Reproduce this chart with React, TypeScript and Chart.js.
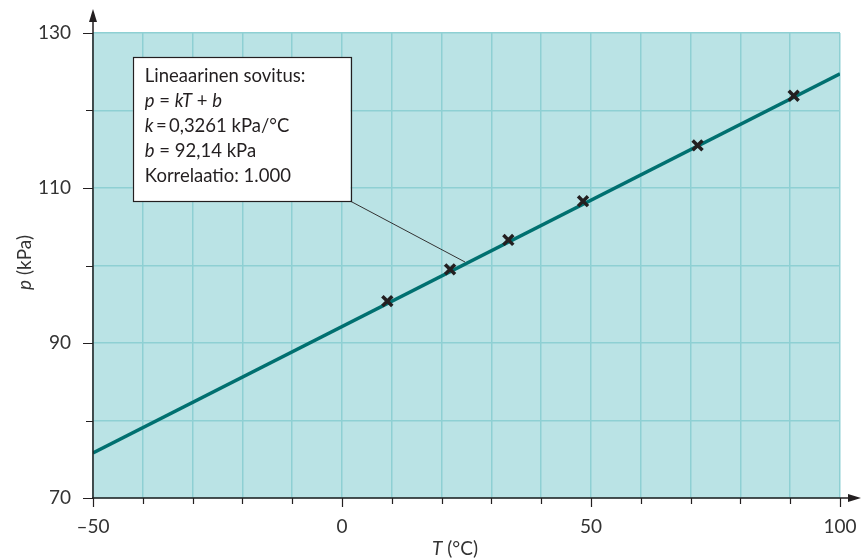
import React, { useEffect, useRef } from "react";
import { Chart, registerables } from "chart.js";

Chart.register(...registerables);

// Measured data (T in °C, p in kPa)
const measuredT = [9.1, 21.7, 33.4, 48.4, 71.4, 90.7];
const measuredP = [95.4, 99.5, 103.3, 108.3, 115.5, 121.9];

// Fitted line end points (p = kT + b)
const fitT = [-50, 100];
const fitP = [75.8, 124.75];

// Annotation text
const boxLines: { t: string; i?: boolean }[][] = [
  [{ t: "Lineaarinen sovitus:" }],
  [{ t: "p", i: true }, { t: " = " }, { t: "kT", i: true }, { t: " + " }, { t: "b", i: true }],
  [{ t: "k", i: true }, { t: "\u2009=\u20090,3261 kPa/°C" }],
  [{ t: "b", i: true }, { t: " = 92,14 kPa" }],
  [{ t: "Korrelaatio: 1.000" }],
];

const FONT = "Lato";
const BG = "#bae3e5";
const GRID = "#8ed0d3";
const AXIS = "#231f20";

function drawSegments(ctx: CanvasRenderingContext2D, segs: { t: string; i?: boolean }[], x: number, y: number, size: number) {
  let cx = x;
  for (const s of segs) {
    ctx.font = `${s.i ? "italic " : ""}${size}px ${FONT}`;
    ctx.fillText(s.t, cx, y);
    cx += ctx.measureText(s.t).width;
  }
  return cx - x;
}

function measureSegments(ctx: CanvasRenderingContext2D, segs: { t: string; i?: boolean }[], size: number) {
  let w = 0;
  for (const s of segs) {
    ctx.font = `${s.i ? "italic " : ""}${size}px ${FONT}`;
    w += ctx.measureText(s.t).width;
  }
  return w;
}

const decorPlugin = {
  id: "decor",
  beforeDraw(chart: any) {
    const { ctx, chartArea: a } = chart;
    ctx.save();
    ctx.fillStyle = BG;
    ctx.fillRect(a.left, a.top, a.right - a.left, a.bottom - a.top);
    ctx.restore();
  },
  afterDraw(chart: any) {
    const { ctx, chartArea: a, scales } = chart;
    const xs = scales.x;
    const ys = scales.y;
    ctx.save();
    // ticks
    ctx.strokeStyle = AXIS;
    ctx.lineWidth = 1.2;
    ctx.beginPath();
    for (let v = -50; v <= 100; v += 10) {
      const px = Math.round(xs.getPixelForValue(v)) + 0.5;
      const len = v % 50 === 0 ? 9 : 6;
      ctx.moveTo(px, a.bottom);
      ctx.lineTo(px, a.bottom + len);
    }
    for (let v = 70; v <= 130; v += 10) {
      const py = Math.round(ys.getPixelForValue(v)) + 0.5;
      const len = (v - 70) % 20 === 0 ? 10 : 7;
      ctx.moveTo(a.left, py);
      ctx.lineTo(a.left - len, py);
    }
    ctx.stroke();
    // axes
    ctx.lineWidth = 1.5;
    ctx.beginPath();
    ctx.moveTo(a.left, a.bottom + 1);
    ctx.lineTo(a.left, 18);
    ctx.moveTo(a.left - 1, a.bottom);
    ctx.lineTo(854, a.bottom);
    ctx.stroke();
    ctx.fillStyle = AXIS;
    ctx.beginPath();
    ctx.moveTo(a.left, 9);
    ctx.lineTo(a.left - 4, 22);
    ctx.lineTo(a.left + 4, 22);
    ctx.closePath();
    ctx.fill();
    ctx.beginPath();
    ctx.moveTo(861, a.bottom);
    ctx.lineTo(848, a.bottom - 4);
    ctx.lineTo(848, a.bottom + 4);
    ctx.closePath();
    ctx.fill();

    // axis titles
    ctx.fillStyle = "#333";
    ctx.textBaseline = "middle";
    const tSegs = [{ t: "T", i: true }, { t: " (°C)" }];
    const tw = measureSegments(ctx, tSegs, 19);
    drawSegments(ctx, tSegs, 455 - tw / 2, 549, 19);
    const pSegs = [{ t: "p", i: true }, { t: " (kPa)" }];
    const pw = measureSegments(ctx, pSegs, 19);
    ctx.save();
    ctx.translate(25, (a.top + a.bottom) / 2 - 3);
    ctx.rotate(-Math.PI / 2);
    drawSegments(ctx, pSegs, -pw / 2, 0, 19);
    ctx.restore();

    // annotation box
    const bl = xs.getPixelForValue(-42);
    const br = xs.getPixelForValue(1.7);
    const bt = ys.getPixelForValue(126.9);
    const bb = ys.getPixelForValue(108.3);
    const tx = xs.getPixelForValue(24.7);
    const ty = ys.getPixelForValue(100.45);
    ctx.strokeStyle = "#333";
    ctx.lineWidth = 1;
    ctx.beginPath();
    ctx.moveTo(br, bb);
    ctx.lineTo(tx, ty);
    ctx.stroke();
    ctx.fillStyle = "#ffffff";
    ctx.fillRect(bl, bt, br - bl, bb - bt);
    ctx.strokeStyle = "#231f20";
    ctx.lineWidth = 1.2;
    ctx.strokeRect(Math.round(bl) + 0.5, Math.round(bt) + 0.5, Math.round(br - bl), Math.round(bb - bt));
    ctx.fillStyle = "#231f20";
    ctx.textBaseline = "alphabetic";
    boxLines.forEach((segs, i) => {
      drawSegments(ctx, segs, bl + 12, bt + 25 + i * 25, 18.5);
    });
    ctx.restore();
  },
};

export default function App() {
  const ref = useRef<HTMLCanvasElement | null>(null);
  useEffect(() => {
    document.body.style.margin = "0";
    const canvas = ref.current!;
    const chart = new Chart(canvas, {
      type: "scatter",
      data: {
        datasets: [
          {
            label: "Measured",
            data: measuredT.map((t, i) => ({ x: t, y: measuredP[i] })),
            pointStyle: "crossRot",
            pointRadius: 7,
            pointBorderWidth: 3.5,
            borderColor: AXIS,
            backgroundColor: AXIS,
            showLine: false,
            order: 0,
          },
          {
            label: "Fit",
            data: fitT.map((t, i) => ({ x: t, y: fitP[i] })),
            showLine: true,
            pointRadius: 0,
            borderColor: "#007070",
            borderWidth: 3.5,
            order: 1,
          },
        ],
      },
      options: {
        animation: false,
        responsive: true,
        maintainAspectRatio: false,
        layout: { padding: { left: 0, top: 33, right: 21, bottom: 0 } },
        plugins: { legend: { display: false }, tooltip: { enabled: false } },
        scales: {
          x: {
            type: "linear",
            min: -50,
            max: 100,
            afterFit: (s: any) => {
              s.height = 61;
              s.paddingLeft = 0;
              s.paddingRight = 0;
            },
            border: { display: false },
            grid: { color: GRID, lineWidth: 1.5, tickLength: 9, tickColor: "rgba(0,0,0,0)" },
            ticks: {
              stepSize: 10,
              autoSkip: false,
              maxRotation: 0,
              padding: 8,
              color: "#333",
              font: { family: FONT, size: 19 },
              callback: (v: any) => (Number(v) % 50 === 0 ? (Number(v) < 0 ? "\u2013" + Math.abs(Number(v)) : String(v)) : ""),
            },
          },
          y: {
            type: "linear",
            min: 70,
            max: 130,
            afterFit: (s: any) => {
              s.width = 93;
              s.paddingTop = 0;
              s.paddingBottom = 0;
            },
            border: { display: false },
            grid: { color: GRID, lineWidth: 1.5, tickLength: 9, tickColor: "rgba(0,0,0,0)" },
            ticks: {
              stepSize: 10,
              autoSkip: false,
              padding: 13,
              color: "#333",
              font: { family: FONT, size: 19 },
              callback: (v: any) => ((Number(v) - 70) % 20 === 0 ? String(v) : ""),
            },
          },
        },
      },
      plugins: [decorPlugin],
    });
    return () => chart.destroy();
  }, []);
  return (
    <div style={{ width: 861, height: 559, position: "relative" }}>
      <canvas ref={ref} />
    </div>
  );
}
